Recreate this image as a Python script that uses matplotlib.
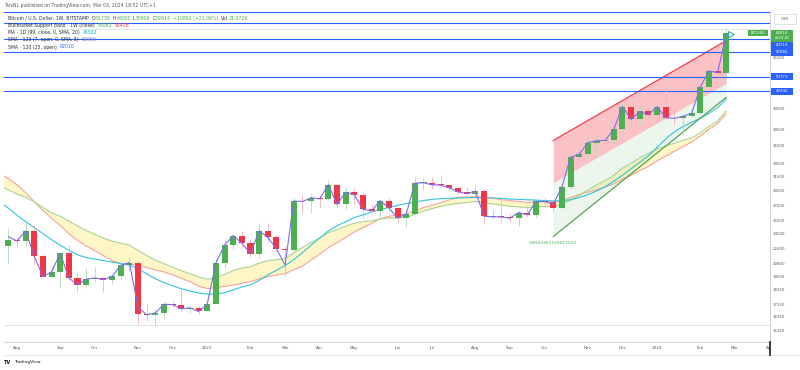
import numpy as np
import pandas as pd
import matplotlib
matplotlib.use("Agg")
import matplotlib.pyplot as plt
from matplotlib.patches import Rectangle
from matplotlib.ticker import NullLocator

W, H = 800, 370

# BTCUSD weekly candles (Bitstamp), first week starts 2022-07-25, last 2024-02-26
week0 = "2022-07-25"
opens = [22580, 23290, 23170, 24300, 21520, 19550, 19990, 21830, 19420, 18800,
         19310, 19420, 19270, 19570, 20630, 20900, 16330, 16290, 16440, 17130,
         17100, 16760, 16840, 16550, 17130, 20880, 22710, 23770, 22930, 21800,
         24320, 23560, 22350, 22150, 28030, 27970, 28470, 28330, 30300, 27590,
         29230, 28870, 26930, 26750, 28080, 27120, 25850, 26340, 30530, 30580,
         30290, 30240, 29860, 29280, 29040, 29400, 26050, 26010, 25970, 25830,
         26530, 26250, 27980, 27950, 27150, 29980, 34530, 35040, 37060, 37370,
         37440, 39470, 43990, 41370, 42990, 42280, 43960, 41730, 41580, 42030,
         42580, 48300, 52140, 51738]
highs = [24670, 23650, 25210, 25140, 21820, 20580, 21860, 22780, 19950, 20370,
         20470, 19520, 19700, 21020, 21470, 21050, 17190, 16810, 17320, 17420,
         18390, 16960, 16950, 17240, 21260, 23360, 23820, 24250, 23360, 25250,
         25270, 23890, 22600, 28480, 28890, 29170, 28800, 31000, 30480, 30020,
         29840, 29100, 27650, 28230, 28450, 27350, 26790, 31390, 31270, 31380,
         31800, 30400, 30040, 30040, 30230, 29690, 26810, 28150, 26440, 26780,
         27480, 28070, 28590, 28000, 30360, 35280, 35980, 37960, 37980, 38440,
         39730, 44740, 44000, 44300, 43800, 45900, 49050, 43300, 42240, 43880,
         48590, 52820, 52980, 64000]
lows = [20710, 22420, 22670, 20760, 19520, 19540, 18540, 19350, 18150, 18470,
        19080, 18190, 18900, 19250, 20050, 15590, 15820, 15480, 16000, 16870,
        16580, 16400, 16350, 16550, 17120, 20400, 22300, 22560, 21470, 21370,
        23100, 21970, 19570, 21920, 26610, 26530, 27200, 28170, 27140, 26950,
        27680, 25810, 26350, 25880, 26510, 25350, 24780, 26250, 29500, 29700,
        29960, 29500, 28860, 28580, 28700, 25170, 25770, 25360, 25360, 24930,
        26000, 26030, 27230, 26560, 26970, 29690, 33930, 34540, 34750, 35640,
        36850, 39200, 40200, 40520, 41550, 40750, 41500, 40280, 38500, 41880,
        42260, 47700, 50560, 50909]
closes = [23290, 23170, 24300, 21520, 19550, 19990, 21830, 19420, 18800, 19310,
          19420, 19270, 19570, 20630, 20900, 16330, 16290, 16440, 17130, 17100,
          16760, 16840, 16550, 17130, 20880, 22710, 23770, 22930, 21800, 24320,
          23560, 22350, 22150, 28030, 27970, 28470, 28330, 30300, 27590, 29230,
          28870, 26930, 26750, 28080, 27120, 25850, 26340, 30530, 30580, 30290,
          30240, 29860, 29280, 29040, 29400, 26050, 26010, 25970, 25830, 26530,
          26250, 27980, 27950, 27150, 29980, 34530, 35040, 37060, 37370, 37440,
          39470, 43990, 41370, 42990, 42280, 43960, 41730, 41580, 42030, 42580,
          48300, 52140, 51722, 62614]

# indicator lines, one value per week starting one week before the first candle
sma20w = [31930, 31210, 30300, 29180, 27930, 26800, 25820, 24940, 23990, 23220,
          22620, 22120, 21610, 21100, 20800, 20810, 20580, 20430, 20170, 19990,
          19710, 19390, 19070, 18680, 18460, 18530, 18670, 18760, 18940, 19090,
          19340, 19550, 19700, 19830, 20200, 20550, 21160, 21760, 22450, 22980,
          23580, 24190, 24690, 25200, 25750, 26060, 26220, 26350, 26730, 27170,
          27470, 27800, 28180, 28530, 28580, 28650, 28530, 28420, 28200, 28110,
          27980, 27850, 27900, 27960, 27910, 28060, 28490, 28930, 29250, 29590,
          29950, 30410, 31120, 31720, 32420, 33060, 33960, 34740, 35520, 36330,
          37140, 38240, 39450, 40640, 42428]
ema21w = [30190, 29560, 28980, 28550, 27920, 27160, 26500, 26080, 25470, 24870,
          24360, 23910, 23490, 23140, 22910, 22730, 22140, 21610, 21140, 20780,
          20440, 20110, 19810, 19520, 19300, 19440, 19740, 20110, 20360, 20490,
          20840, 21090, 21200, 21290, 21900, 22450, 23000, 23490, 24110, 24420,
          24860, 25220, 25380, 25500, 25740, 25860, 25860, 25910, 26330, 26710,
          27040, 27330, 27560, 27720, 27840, 27980, 27800, 27640, 27490, 27340,
          27260, 27170, 27250, 27310, 27300, 27540, 28180, 28800, 29550, 30260,
          30910, 31690, 32810, 33590, 34440, 35160, 35960, 36480, 36940, 37410,
          37880, 38820, 40030, 41100, 43062]
ma99d = [27900, 27100, 26200, 25400, 24700, 24000, 23300, 22700, 22150, 21700,
         21400, 21250, 21100, 20950, 20800, 20650, 20300, 19800, 19350, 19000,
         18700, 18450, 18250, 18080, 17980, 17980, 18100, 18350, 18600, 18800,
         19200, 19700, 20150, 20600, 21200, 21900, 22700, 23500, 24300, 24900,
         25400, 25900, 26250, 26600, 26900, 27200, 27450, 27700, 27900, 28100,
         28250, 28350, 28400, 28450, 28480, 28500, 28480, 28450, 28380, 28300,
         28250, 28200, 28150, 28100, 28050, 28050, 28200, 28500, 28900, 29400,
         30000, 30800, 31700, 32700, 33700, 34800, 36200, 37700, 39000, 40000,
         40800, 41600, 42600, 43800, 45562]
sma7_open = [23650, 23170, 24300, 21520, 19550, 19990, 21830, 19420, 18800, 19310,
             19420, 19270, 19570, 20630, 20900, 16900, 16290, 16440, 17130, 17100,
             16760, 16840, 16550, 17130, 20880, 22710, 23770, 22930, 21800, 24320,
             23560, 22350, 20650, 28030, 27970, 28470, 28330, 30300, 27590, 29230,
             28870, 26930, 26750, 28080, 27120, 25850, 26340, 30530, 30580, 30290,
             30240, 29860, 29280, 29040, 29400, 26050, 26010, 25970, 25830, 26530,
             26250, 27980, 27950, 27600, 29980, 34530, 35040, 37060, 37370, 37440,
             39470, 43990, 41370, 42990, 42280, 43960, 41730, 41580, 42030, 42580,
             48300, 52140, 51722, 61960]

# regression trend drawn on the last leg
reg_weeks = [63, 83]
reg_upper = [37410, 60240]
reg_mid = [30600, 49150]
trend_low = [23660, 45970]
pearson_r = "0.8944361160617923"

hlines = [69000, 65600, 60719, 57085, 50771, 47342]
cycle_low = 15480
last_line = 63600
price_ticks = [15150, 16150, 17150, 18350, 19550, 20800, 22400, 24000, 25500,
               27500, 29500, 31500, 33500, 36500, 39500, 43500, 55500]

GREEN = '#4caf50'
RED = '#f23645'
BLUE = '#2962ff'
DARK = '#2a2e39'
GREY = '#555a66'

fig = plt.figure(figsize=(8, 3.7), dpi=100)
fig.set_facecolor('white')
ax = fig.add_axes([4 / W, 1 - 342 / H, 766 / W, 331 / H])
ax.set_yscale('log')
ax.set_xlim(-0.497, 88.06)
ax.set_ylim(14307, 69405)

x = np.arange(len(closes))
x_ma = np.arange(-1, len(closes))

# bull market support band
ax.fill_between(x_ma, sma20w, ema21w, color='#fff6c8', lw=0, zorder=1)
ax.plot(x_ma, sma20w, color='#f5a49c', lw=0.8, zorder=2)
ax.plot(x_ma, ema21w, color='#a8d58f', lw=0.8, zorder=2)
ax.plot(x_ma, ma99d, color='#2fc4dc', lw=0.8, zorder=2)

# regression channel
ax.fill_between(reg_weeks, reg_mid, reg_upper, color=RED, alpha=0.3, lw=0, zorder=1)
ax.fill_between(reg_weeks, trend_low, reg_mid, color=GREEN, alpha=0.1, lw=0, zorder=1)
ax.plot(reg_weeks, reg_upper, color=RED, lw=0.9, zorder=2)
ax.plot(reg_weeks, trend_low, color='#43a047', lw=0.8, zorder=2)
ax.text(reg_weeks[0], 22945, pearson_r, color=GREEN, fontsize=3.2, ha='center', va='center')

for v in hlines:
    ax.axhline(v, color=BLUE, lw=0.8, zorder=2.5)
ax.axhline(cycle_low, color='#dcdcdc', lw=0.6, zorder=1)
ax.axhline(last_line, color='#d6ecd6', lw=0.6, zorder=1)

# candles
o = np.array(opens, float)
c = np.array(closes, float)
up = c >= o
lo_body = np.minimum(o, c)
hi_body = np.maximum(np.maximum(o, c), lo_body * 1.004)
ax.vlines(x, lows, highs, colors=np.where(up, '#b5dab7', '#f6b3b8'), lw=0.6, zorder=2.6)
ax.bar(x, hi_body - lo_body, bottom=lo_body, width=0.7,
       color=np.where(up, GREEN, RED), lw=0, zorder=3)

ax.plot(x, sma7_open, color='#7f6cf0', lw=0.8, zorder=3.5)
ax.plot(83.6, 62300, marker='>', ms=4, mfc='none', mec='#26a69a', mew=0.7, zorder=4)

# axes styling
for s in ['top', 'left']:
    ax.spines[s].set_visible(False)
ax.spines['right'].set_color('#c9ccd3')
ax.spines['right'].set_linewidth(0.6)
ax.spines['bottom'].set_color('#c9ccd3')
ax.spines['bottom'].set_linewidth(0.6)

ax.yaxis.tick_right()
ax.yaxis.set_minor_locator(NullLocator())
ax.set_yticks(price_ticks)
ax.set_yticklabels([str(t) for t in price_ticks])
ax.tick_params(axis='y', length=0, pad=2, labelsize=2.8, labelcolor=GREY)

weeks = pd.date_range(week0, periods=89, freq='7D')
tick_pos = [i for i, d in enumerate(weeks) if d.day <= 7]
tick_lab = [str(weeks[i].year) if weeks[i].month == 1 else weeks[i].strftime('%b') for i in tick_pos]
ax.set_xticks(tick_pos)
ax.set_xticklabels(tick_lab)
ax.tick_params(axis='x', length=0, pad=3, labelsize=3, labelcolor=GREY)


def px_rect(x0, y0, x1, y1, fc, ec='none', lw=0):
    fig.add_artist(Rectangle((x0 / W, 1 - y1 / H), (x1 - x0) / W, (y1 - y0) / H,
                             transform=fig.transFigure, fc=fc, ec=ec, lw=lw))


def px_text(xp, yp, s, size=3.2, color=DARK, **kw):
    return fig.text(xp / W, 1 - yp / H, s, fontsize=size, color=color, va='center', **kw)


# bottom axis frame and right column corner
px_rect(770.5, 342.5, 800, 356, 'white')
fig.add_artist(plt.Line2D([4 / W, 1], [1 - 355 / H] * 2, color='#e0e3eb', lw=0.6))
fig.add_artist(plt.Line2D([769.5 / W] * 2, [1 - 342 / H, 1 - 355 / H], color='#131722', lw=1.2))

# price labels on the axis
px_rect(774, 14, 796, 23.5, 'white', ec='#d1d4dc', lw=0.5)
px_text(785, 19, 'USD', 2.8, GREY, ha='center')
px_rect(771, 29.5, 793, 41.5, GREEN)
px_text(782, 33, '62614', 2.8, 'white', ha='center')
px_text(782, 38.3, '06:07:02', 2.4, 'white', ha='center')
px_rect(771, 42, 793, 56, BLUE)
px_text(782, 45.3, '60719', 2.8, 'white', ha='center')
px_text(782, 52.3, '57085', 2.8, 'white', ha='center')
px_rect(771, 73.5, 793, 80, BLUE)
px_text(782, 76.7, '50771', 2.8, 'white', ha='center')
px_rect(771, 88, 793, 94.5, BLUE)
px_text(782, 91.3, '47342', 2.8, 'white', ha='center')
px_rect(748, 30, 768, 36.3, GREEN)
px_text(758, 33.1, 'BTCUSD', 2.6, 'white', ha='center')

# header and legend
px_text(4, 6, 'TarsNL published on TradingView.com, Mar 03, 2024 18:52 UTC+1', 3.3, GREY)

renderer = fig.canvas.get_renderer()


def write_row(xp, yp, pieces):
    for s, col, gap in pieces:
        t = px_text(xp, yp, s, 3.35, col)
        xp += t.get_window_extent(renderer).width + gap


write_row(8, 18.3, [('Bitcoin / U.S. Dollar, 1W, BITSTAMP', DARK, 3),
                    ('O', DARK, 0.4), ('51738', GREEN, 2), ('H', DARK, 0.4), ('64000', GREEN, 2),
                    ('L', DARK, 0.4), ('50909', GREEN, 2), ('C', DARK, 0.4), ('62614', GREEN, 2),
                    ('+10892 (+21.06%)', GREEN, 3), ('Vol', DARK, 0.4), ('21.072K', GREEN, 0)])
write_row(8, 25.2, [('Bullmarket Support Band · 1W (close)', DARK, 3),
                    ('43062', GREEN, 2), ('42428', RED, 0)])
write_row(8, 32.5, [('MA · 1D (99, close, 0, SMA, 20)', DARK, 3), ('45562', '#00bcd4', 0)])
write_row(8, 39.7, [('SMA · 120 (7, open, 0, SMA, 5)', DARK, 3), ('61960', '#7f6cf0', 0)])
write_row(8, 47, [('SMA · 120 (25, open)', DARK, 3), ('62010', BLUE, 0)])

# footer logo
px_text(4, 362, 'TV', 3.6, '#131722', weight='bold')
px_text(14, 362, 'TradingView', 3.2, '#131722')

fig.savefig('out.png', dpi=100, facecolor='white')
